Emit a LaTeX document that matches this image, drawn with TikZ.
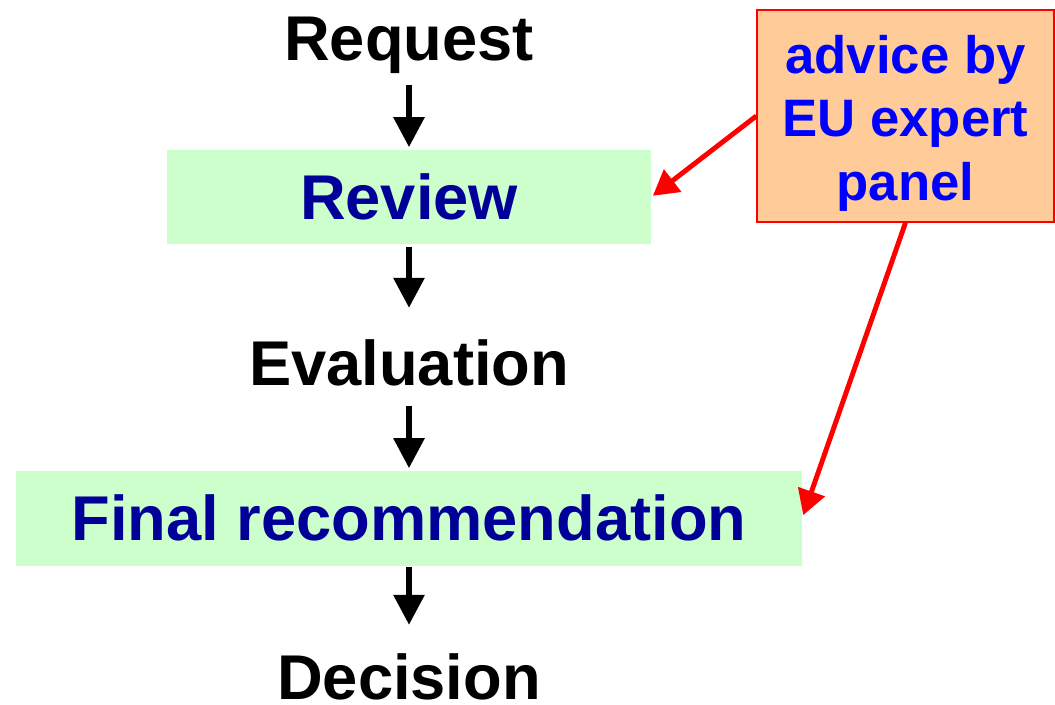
\documentclass[tikz,border=0pt]{standalone}
\usepackage{fontspec}
\setmainfont{Liberation Sans}
\usetikzlibrary{arrows.meta}
\definecolor{stagegreen}{HTML}{CCFFCC}
\definecolor{panelorange}{HTML}{FFCC99}
\definecolor{stagenavy}{HTML}{000099}

\begin{document}
\begin{tikzpicture}[x = 0.02cm, y = -0.02cm,
		plain/.style = {font = \fontsize{36}{43}\selectfont\bfseries, inner sep = 0pt, text height = 25.8pt, text depth = 7.6pt},
		stage/.style = {plain, fill = stagegreen, text = stagenavy, text depth = 0pt, minimum height = 1.9cm},
		flow/.style = {black, line width = 3.4pt, -{Triangle[length = 0.6cm, width = 0.6cm]}},
		advice/.style = {red, line width = 2.8pt, -{Triangle[length = 0.5cm, width = 0.55cm]}}]
					\useasboundingbox (0, 0) rectangle (1055, 704);
					\node [plain, anchor = base] (req) at (409, 60) {Request};
					\node [stage, minimum width = 9.68cm] (rev) at (409, 197) {Review};
					\node [plain, anchor = base] (eva) at (409, 385) {Evaluation};
					\node [stage, minimum width = 15.72cm] (fin) at (409, 518) {Final recommendation};
					\node [plain, anchor = base, text depth = 0pt] (dec) at (409, 699) {Decision};
					\node [draw = red, line width = 0.8pt, fill = panelorange, text = blue, minimum width = 5.94cm, minimum height = 4.24cm, align = center, font = \fontsize{30}{36}\selectfont\bfseries] (adv) at (905.5, 116) {\rule{0pt}{30pt}advice by\\EU expert\\panel};
					\draw [flow, shorten <= 0.22cm, shorten >= 0.04cm] (req.south) -- (rev.north);
					\draw [flow, shorten <= 0.04cm, shorten >= 0.63cm] (rev.south) -- (eva.north);
					\draw [flow, shorten <= 0.14cm, shorten >= 0.04cm] (eva.south) -- (fin.north);
					\draw [flow, shorten <= 0.02cm, shorten >= 0.57cm] (fin.south) -- (dec.north);
					\draw [advice, shorten >= 0.04cm] (adv.west) -- (rev.east);
					\draw [advice, shorten >= 0.06cm] (adv.south) -- (fin.east);
				\end{tikzpicture}
\end{document}
